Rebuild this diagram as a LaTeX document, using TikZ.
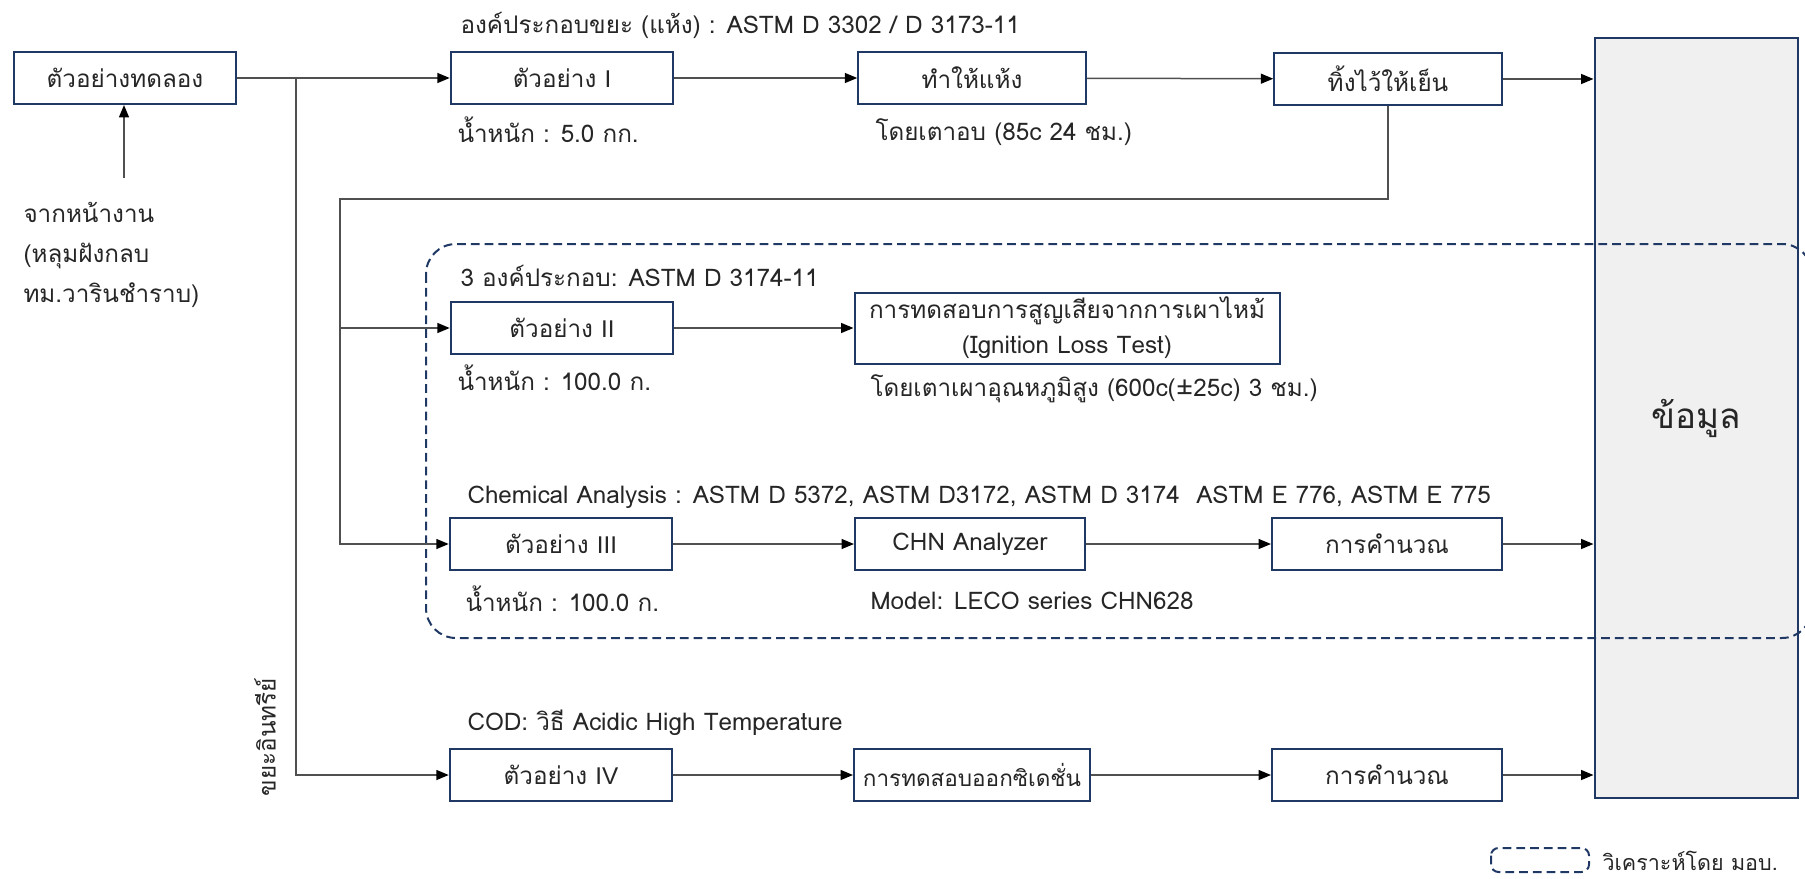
\documentclass[tikz,border=0pt]{standalone}
\usepackage{fontspec}
\setmainfont[Script=Thai]{Loma}
\newfontfamily\latfont{Liberation Sans}
\usetikzlibrary{arrows.meta}
\definecolor{navy}{HTML}{203864}
\definecolor{ink}{HTML}{262626}
\definecolor{linegray}{HTML}{505050}
\definecolor{panel}{HTML}{F0F0F0}

\begin{document}
\begin{tikzpicture}[x=0.4pt, y=-0.4pt,
    box/.style={rectangle, draw=navy, line width=0.8pt, fill=white, text=ink,
        minimum width=89pt, minimum height=20.8pt, inner sep=1pt,
        font=\fontsize{9.7}{12}\selectfont},
    lbl/.style={anchor=west, inner sep=0pt, text=ink, font=\fontsize{9.7}{12}\selectfont},
    ln/.style={draw=linegray, line width=0.6pt},
    arr/.style={ln, -{Triangle[length=5pt, width=4pt, black]}},
    dashbox/.style={draw=navy, line width=0.8pt, dash pattern=on 3.5pt off 2pt}
]

    \useasboundingbox (0,0) rectangle (1805,879);

    % data box and the lab area
    \node[box, fill=panel, minimum width=81.2pt, minimum height=304pt,
        font=\fontsize{14}{16}\selectfont] (data) at (1696,418) {ข้อมูล};
    \draw[dashbox, rounded corners=12pt] (426,244) rectangle (1812,638);

    % start
    \node[box] (src) at (125,78) {ตัวอย่างทดลอง};
    \node[lbl, align=left, font=\fontsize{9.7}{16}\selectfont] (field) at (23,255)
        {จากหน้างาน\\(หลุมฝังกลบ\\ทม.วารินชำราบ)};
    \coordinate (fieldtop) at (124,178);

    % row 1
    \node[box] (s1) at (562,78) {ตัวอย่าง {\latfont I}};
    \node[box, minimum width=91pt] (dry) at (972,78) {ทำให้แห้ง};
    \node[box, minimum width=91pt] (cool) at (1388,79) {ทิ้งไว้ให้เย็น};
    \node[lbl] (t1) at (460,25) {องค์ประกอบขยะ (แห้ง) : ASTM D 3302 / D 3173-11};
    \node[lbl] (w1) at (457,130) {น้ำหนัก : 5.0 กก.};
    \node[lbl] (oven) at (875,132) {โดยเตาอบ (85c 24 ชม.)};

    % row 2
    \node[box] (s2) at (562,328) {ตัวอย่าง {\latfont II}};
    \node[box, minimum width=170pt, minimum height=28.4pt, align=center,
        font=\fontsize{9.7}{14}\selectfont] (ign) at (1067,328)
        {การทดสอบการสูญเสียจากการเผาไหม้\\(Ignition Loss Test)};
    \node[lbl] (t2) at (460,276) {3 องค์ประกอบ: ASTM D 3174-11};
    \node[lbl] (w2) at (457,378) {น้ำหนัก : 100.0 ก.};
    \node[lbl] (furn) at (870,389) {โดยเตาเผาอุณหภูมิสูง (600c(±25c) 3 ชม.)};

    % row 3
    \node[box] (s3) at (561,544) {ตัวอย่าง {\latfont III}};
    \node[box, minimum width=92pt] (chn) at (970,544) {CHN Analyzer};
    \node[box, minimum width=92pt] (calc3) at (1387,544) {การคำนวณ};
    \node[lbl] (t3) at (467,497) {Chemical Analysis : ASTM D 5372, ASTM D3172, ASTM D 3174~~ASTM E 776, ASTM E 775};
    \node[lbl] (w3) at (465,599) {น้ำหนัก : 100.0 ก.};
    \node[lbl] (model) at (870,601) {Model: LECO series CHN628};

    % row 4
    \node[box] (s4) at (561,775) {ตัวอย่าง {\latfont IV}};
    \node[box, minimum width=94.4pt, font=\fontsize{9}{11}\selectfont] (cod) at (972,775) {การทดสอบออกซิเดชั่น};
    \node[box, minimum width=92pt] (calc4) at (1387,775) {การคำนวณ};
    \node[lbl] (t4) at (467,723) {COD: วิธี Acidic High Temperature};
    \node[lbl, rotate=90, anchor=center] (org) at (265,737) {ขยะอินทรีย์};

    % junctions
    \coordinate (j1) at (296,78);
    \coordinate (j2) at (340,199);

    % connectors
    \draw[arr] (fieldtop) -- (fieldtop |- src.south);
    \draw[arr] (src.east) -- (s1.west);
    \draw[arr] (j1) |- (s4.west);
    \draw[arr] (s1) -- (dry);
    \draw[arr] (dry) -- (cool);
    \draw[arr] (cool.east) -- (cool.east -| data.west);
    \draw[arr] (cool.south) |- (j2) |- (s3.west);
    \draw[arr] (j2 |- s2.west) -- (s2.west);
    \draw[arr] (s2) -- (ign);
    \draw[arr] (s3) -- (chn);
    \draw[arr] (chn) -- (calc3);
    \draw[arr] (calc3.east) -- (calc3.east -| data.west);
    \draw[arr] (s4) -- (cod);
    \draw[arr] (cod) -- (calc4);
    \draw[arr] (calc4.east) -- (calc4.east -| data.west);

    % legend
    \draw[dashbox, rounded corners=3pt] (1491,848) rectangle (1589,872);
    \node[lbl, font=\fontsize{8.6}{10}\selectfont] (key) at (1602,861) {วิเคราะห์โดย มอบ.};

\end{tikzpicture}
\end{document}
